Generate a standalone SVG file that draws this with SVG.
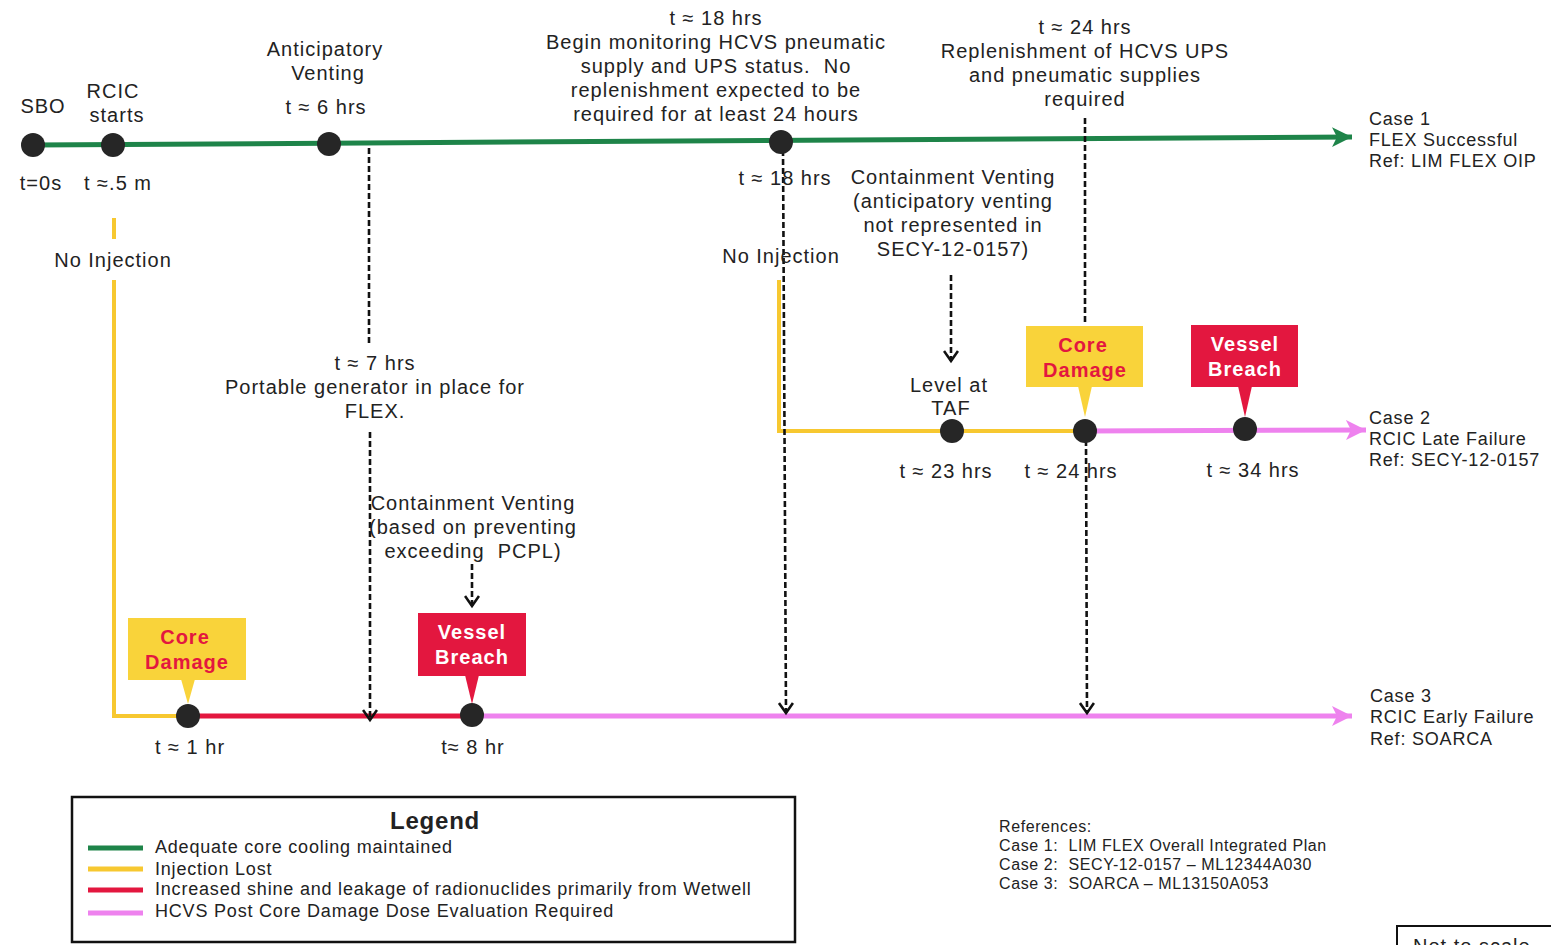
<svg xmlns="http://www.w3.org/2000/svg" width="1551" height="945" viewBox="0 0 1551 945">
<defs>
<style>
text{font-family:"Liberation Sans",Arial,sans-serif;fill:#222;}
.t{font-size:20px;text-anchor:middle;letter-spacing:1px;}
.c{font-size:18px;letter-spacing:0.8px;}
.cb{font-size:20px;font-weight:bold;text-anchor:middle;letter-spacing:1px;}
.dash{stroke:#111;stroke-width:2.6;stroke-dasharray:6 3;fill:none;}
.dot{fill:#262626;}
.green{stroke:#1E8449;stroke-width:5;fill:none;}
.yellow{stroke:#F7C830;stroke-width:4;fill:none;}
.red{stroke:#E3173F;stroke-width:5;fill:none;}
.pink{stroke:#EE82EE;stroke-width:5;fill:none;}
</style>
<marker id="ag" markerUnits="userSpaceOnUse" markerWidth="22" markerHeight="24" refX="20" refY="12" orient="auto"><path d="M0,2 L20,12 L0,22 L5,12 Z" fill="#1E8449"/></marker>
<marker id="ap" markerUnits="userSpaceOnUse" markerWidth="22" markerHeight="24" refX="20" refY="12" orient="auto"><path d="M0,2 L20,12 L0,22 L5,12 Z" fill="#EE82EE"/></marker>
<marker id="ad" markerUnits="userSpaceOnUse" markerWidth="16" markerHeight="16" refX="12" refY="8" orient="auto"><path d="M2,1 L12,8 L2,15" fill="none" stroke="#111" stroke-width="2.6"/></marker>
</defs>

<g id="connectors">
<line class="green" x1="33" y1="145" x2="1352" y2="137" marker-end="url(#ag)"/>
<line class="yellow" x1="114" y1="218" x2="114" y2="239"/>
<polyline class="yellow" points="114,280 114,716 188,716"/>
<line class="red" x1="188" y1="716" x2="472" y2="716"/>
<line class="pink" x1="472" y1="716" x2="1352" y2="716" marker-end="url(#ap)"/>
<polyline class="yellow" points="779,280 779,431 1085,431"/>
<line class="pink" x1="1085" y1="431" x2="1366" y2="430" marker-end="url(#ap)"/>
<line class="dash" x1="369" y1="148" x2="369" y2="343"/>
<line class="dash" x1="370" y1="432" x2="370" y2="720" marker-end="url(#ad)"/>
<line class="dash" x1="783" y1="150" x2="786" y2="713" marker-end="url(#ad)"/>
<line class="dash" x1="1085" y1="118" x2="1085" y2="324"/>
<line class="dash" x1="1086" y1="440" x2="1087" y2="713" marker-end="url(#ad)"/>
<line class="dash" x1="951" y1="275" x2="951" y2="361" marker-end="url(#ad)"/>
<line class="dash" x1="472" y1="564" x2="472" y2="606" marker-end="url(#ad)"/>
</g>

<g id="n-sbo">
<circle class="dot" cx="33" cy="145" r="12"/>
<text class="t" x="43" y="113">SBO</text>
<text class="t" x="41" y="190">t=0s</text>
</g>
<g id="n-rcic">
<circle class="dot" cx="113" cy="145" r="12"/>
<text class="t" x="113" y="98">RCIC</text>
<text class="t" x="117" y="122">starts</text>
<text class="t" x="118" y="190">t ≈.5 m</text>
<text class="t" x="113" y="267">No Injection</text>
</g>
<g id="n-6hrs">
<circle class="dot" cx="329" cy="144" r="12"/>
<text class="t" x="325" y="56">Anticipatory</text>
<text class="t" x="328" y="80">Venting</text>
<text class="t" x="326" y="114">t ≈ 6 hrs</text>
</g>
<g id="n-7hrs">
<text class="t" x="375" y="370">t ≈ 7 hrs</text>
<text class="t" x="375" y="394">Portable generator in place for</text>
<text class="t" x="375" y="418">FLEX.</text>
</g>
<g id="n-18hrs">
<circle class="dot" cx="781" cy="142" r="12"/>
<text class="t" x="716" y="25">t ≈ 18 hrs</text>
<text class="t" x="716" y="49">Begin monitoring HCVS pneumatic</text>
<text class="t" x="716" y="73" xml:space="preserve">supply and UPS status.  No</text>
<text class="t" x="716" y="97">replenishment expected to be</text>
<text class="t" x="716" y="121">required for at least 24 hours</text>
<text class="t" x="785" y="185">t ≈ 18 hrs</text>
<text class="t" x="781" y="263">No Injection</text>
</g>
<g id="n-24hrs-top">
<text class="t" x="1085" y="34">t ≈ 24 hrs</text>
<text class="t" x="1085" y="58">Replenishment of HCVS UPS</text>
<text class="t" x="1085" y="82">and pneumatic supplies</text>
<text class="t" x="1085" y="106">required</text>
</g>
<g id="n-case1">
<text class="c" x="1369" y="125">Case 1</text>
<text class="c" x="1369" y="146">FLEX Successful</text>
<text class="c" x="1369" y="167">Ref: LIM FLEX OIP</text>
</g>
<g id="n-cv-antic">
<text class="t" x="953" y="184">Containment Venting</text>
<text class="t" x="953" y="208">(anticipatory venting</text>
<text class="t" x="953" y="232">not represented in</text>
<text class="t" x="953" y="256">SECY-12-0157)</text>
</g>
<g id="n-taf">
<circle class="dot" cx="952" cy="431" r="12"/>
<text class="t" x="949" y="392">Level at</text>
<text class="t" x="951" y="415">TAF</text>
<text class="t" x="946" y="478">t ≈ 23 hrs</text>
</g>
<g id="n-cd2">
<rect x="1026" y="326" width="117" height="61" fill="#F9D33A"/>
<path d="M1078,386 L1092,386 L1085,417 Z" fill="#F9D33A"/>
<text class="cb" x="1083" y="352" style="fill:#E3173F">Core</text>
<text class="cb" x="1085" y="377" style="fill:#E3173F">Damage</text>
<circle class="dot" cx="1085" cy="431" r="12"/>
<text class="t" x="1071" y="478">t ≈ 24 hrs</text>
</g>
<g id="n-vb2">
<rect x="1191" y="325" width="107" height="62" fill="#E3173F"/>
<path d="M1238,386 L1252,386 L1245,417 Z" fill="#E3173F"/>
<text class="cb" x="1245" y="351" style="fill:#fff">Vessel</text>
<text class="cb" x="1245" y="376" style="fill:#fff">Breach</text>
<circle class="dot" cx="1245" cy="429" r="12"/>
<text class="t" x="1253" y="477">t ≈ 34 hrs</text>
</g>
<g id="n-case2">
<text class="c" x="1369" y="424">Case 2</text>
<text class="c" x="1369" y="445">RCIC Late Failure</text>
<text class="c" x="1369" y="466">Ref: SECY-12-0157</text>
</g>
<g id="n-cv-pcpl">
<text class="t" x="473" y="510">Containment Venting</text>
<text class="t" x="473" y="534">(based on preventing</text>
<text class="t" x="473" y="558" xml:space="preserve">exceeding  PCPL)</text>
</g>
<g id="n-cd3">
<rect x="128" y="618" width="118" height="62" fill="#F9D33A"/>
<path d="M181,679 L195,679 L188,704 Z" fill="#F9D33A"/>
<text class="cb" x="185" y="644" style="fill:#E3173F">Core</text>
<text class="cb" x="187" y="669" style="fill:#E3173F">Damage</text>
<circle class="dot" cx="188" cy="716" r="12"/>
<text class="t" x="190" y="754">t ≈ 1 hr</text>
</g>
<g id="n-vb3">
<rect x="418" y="613" width="108" height="63" fill="#E3173F"/>
<path d="M465,675 L479,675 L472,704 Z" fill="#E3173F"/>
<text class="cb" x="472" y="639" style="fill:#fff">Vessel</text>
<text class="cb" x="472" y="664" style="fill:#fff">Breach</text>
<circle class="dot" cx="472" cy="715" r="12"/>
<text class="t" x="473" y="754">t≈ 8 hr</text>
</g>
<g id="n-case3">
<text class="c" x="1370" y="702">Case 3</text>
<text class="c" x="1370" y="723">RCIC Early Failure</text>
<text class="c" x="1370" y="745">Ref: SOARCA</text>
</g>
<g id="legend">
<rect x="72" y="797" width="723" height="145" fill="none" stroke="#111" stroke-width="2.5"/>
<text x="435" y="829" style="font-size:24px;font-weight:bold;text-anchor:middle;letter-spacing:0.8px">Legend</text>
<line x1="88" y1="848" x2="143" y2="848" class="green"/>
<line x1="88" y1="869" x2="143" y2="869" class="yellow" style="stroke-width:5"/>
<line x1="88" y1="890" x2="143" y2="890" class="red"/>
<line x1="88" y1="913" x2="143" y2="913" class="pink"/>
<text class="c" x="155" y="853">Adequate core cooling maintained</text>
<text class="c" x="155" y="875">Injection Lost</text>
<text class="c" x="155" y="895">Increased shine and leakage of radionuclides primarily from Wetwell</text>
<text class="c" x="155" y="917">HCVS Post Core Damage Dose Evaluation Required</text>
</g>
<g id="references" style="font-size:16px;letter-spacing:0.6px">
<text x="999" y="832">References:</text>
<text x="999" y="851" xml:space="preserve">Case 1:  LIM FLEX Overall Integrated Plan</text>
<text x="999" y="870" xml:space="preserve">Case 2:  SECY-12-0157 – ML12344A030</text>
<text x="999" y="889" xml:space="preserve">Case 3:  SOARCA – ML13150A053</text>
</g>
<g id="not-to-scale">
<rect x="1397" y="926" width="170" height="40" fill="none" stroke="#111" stroke-width="2"/>
<text x="1413" y="953" style="font-size:20px;letter-spacing:1px">Not to scale</text>
</g>
</svg>
